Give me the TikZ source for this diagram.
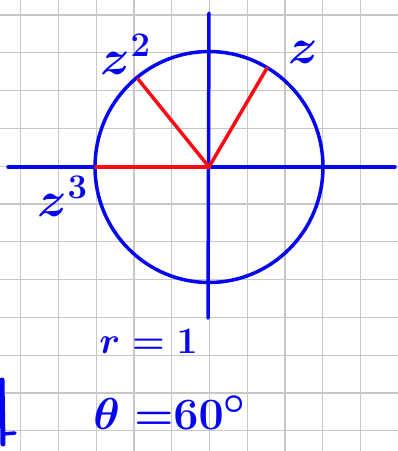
\documentclass[tikz,border=0pt]{standalone}
\usetikzlibrary{positioning}
\definecolor{inkblue}{RGB}{5,5,240}
\definecolor{inkred}{RGB}{250,10,20}
\tikzstyle{gridline} = [draw=black!22, line width=1.3pt]
\tikzstyle{ink} = [draw=inkblue, line width=3.5pt, line cap=round]
\tikzstyle{spoke} = [draw=inkred, line width=3.5pt, line cap=round]
\tikzstyle{handtext} = [text=inkblue, inner sep=0pt, font=\Huge\boldmath]

\begin{document}
\begin{tikzpicture}[x=1pt, y=-1pt]
\useasboundingbox (0,0) rectangle (398,451);
% Grid
\foreach \i in {0,...,10} \draw [gridline] (20.7+37.75*\i,0) -- (20.7+37.75*\i,451);
\foreach \j in {0,...,11} \draw [gridline] (0,15+37.8*\j) -- (398,15+37.8*\j);

% Points
\coordinate (O) at (209,167);
\coordinate (xleft) at (8,167);
\coordinate (xright) at (395,167);
\coordinate (ytop) at (209,13);
\coordinate (ybot) at (208,318);
\coordinate (z1) at (267,68);
\coordinate (z2) at (138,79);
\coordinate (z3) at (96,167);

% Axes and circle
\draw [ink] (xleft) -- (xright);
\draw [ink] (ytop) -- (ybot);
\draw [ink] (O) ellipse [x radius=114pt, y radius=115.5pt];

% Spokes
\draw [spoke] (O) -- (z1);
\draw [spoke] (O) -- (z2);
\draw [spoke] (O) -- (z3);

% Labels
\node (zone) [handtext, scale=2] at (303,52) {$z$};
\node (ztwo) [handtext, scale=2] at (126,54) {$z^{\scriptscriptstyle 2}$};
\node (zthree) [handtext, scale=2] at (63,196) {$z^{\scriptscriptstyle 3}$};
\node (rval) [handtext, anchor=west, scale=1.5] at (99,341) {$r\;{=}\;1$};
\node (thetaval) [handtext, anchor=west, scale=1.8] at (93,413) {$\theta\;{=}60^\circ$};

% Edge stroke
\draw [ink, line width=5pt] (2,380) -- (3,444);
\draw [ink] (3,434) -- (15,433);
\end{tikzpicture}
\end{document}
